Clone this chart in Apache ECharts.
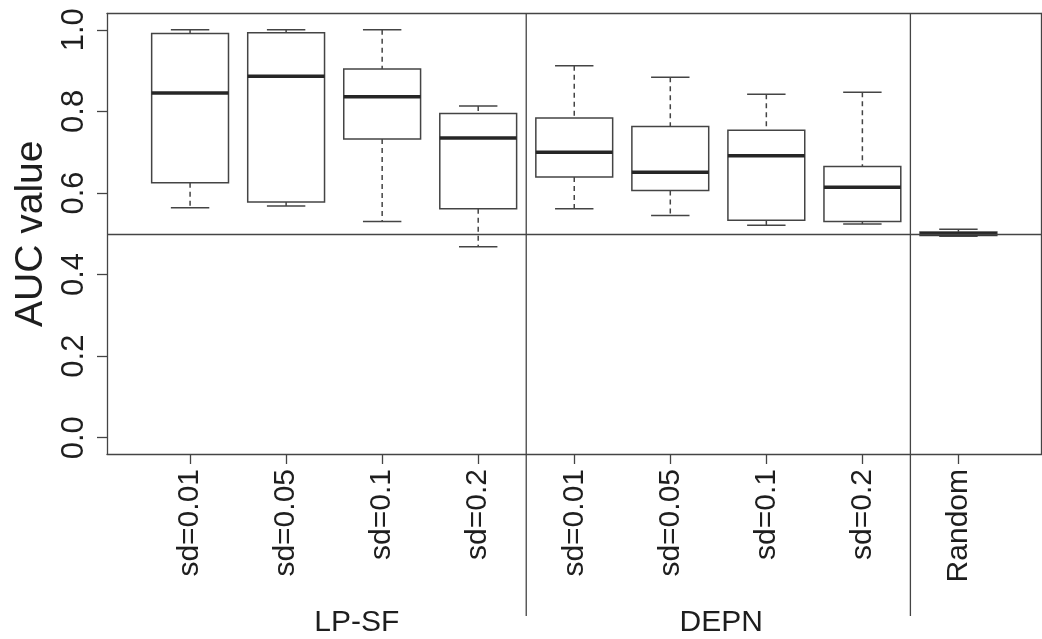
<!DOCTYPE html>
<html>
<head>
<meta charset="utf-8">
<title>AUC value boxplot</title>
<script src="https://cdn.jsdelivr.net/npm/echarts@6/dist/echarts.min.js"></script>
<style>
  html, body { margin: 0; padding: 0; background: #fff; }
  #chart { width: 1042px; height: 639px; }
</style>
</head>
<body>
<div id="chart"></div>
<script>
// values
const categories = ['sd=0.01', 'sd=0.05', 'sd=0.1', 'sd=0.2', 'sd=0.01', 'sd=0.05', 'sd=0.1', 'sd=0.2', 'Random'];
const whiskerLow = [0.564, 0.568, 0.530, 0.468, 0.561, 0.545, 0.521, 0.524, 0.494];
const quart1 = [0.625, 0.578, 0.732, 0.561, 0.639, 0.606, 0.533, 0.530, 0.496];
const medians = [0.845, 0.886, 0.836, 0.735, 0.700, 0.651, 0.691, 0.614, 0.500];
const quart3 = [0.991, 0.993, 0.904, 0.795, 0.784, 0.763, 0.754, 0.665, 0.504];
const whiskerHigh = [1.000, 1.000, 1.000, 0.813, 0.912, 0.884, 0.842, 0.847, 0.511];
const groups = ['LP-SF', 'DEPN'];
const yTicks = [0, 0.2, 0.4, 0.6, 0.8, 1.0];
const chanceLevel = 0.5;
const separators = [4.5, 8.5];

const LINE = '#444';
const TEXT = '#1e1e1e';
const FONT = 'Liberation Sans, Arial, Helvetica, sans-serif';
const X_MIN = 0.135, X_MAX = 9.865;
const Y_MIN = -0.04, Y_MAX = 1.04;

const positions = categories.map((c, i) => i + 1);
const boxData = positions.map((x, i) => [x, whiskerLow[i], quart1[i], medians[i], quart3[i], whiskerHigh[i]]);

const chart = echarts.init(document.getElementById('chart'));

function renderBox(params, api) {
  const x = api.value(0);
  const lo = api.coord([x, api.value(1)]);
  const q1 = api.coord([x, api.value(2)]);
  const md = api.coord([x, api.value(3)]);
  const q3 = api.coord([x, api.value(4)]);
  const hi = api.coord([x, api.value(5)]);
  const w = api.size([0.8, 0])[0];
  const cx = q3[0];
  const cap = w / 4;
  const solid = { stroke: LINE, lineWidth: 1.5 };
  const dashed = { stroke: LINE, lineWidth: 1.5, lineDash: [5, 4] };
  return {
    type: 'group',
    children: [
      { type: 'line', shape: { x1: cx, y1: hi[1], x2: cx, y2: q3[1] }, style: dashed },
      { type: 'line', shape: { x1: cx, y1: q1[1], x2: cx, y2: lo[1] }, style: dashed },
      { type: 'line', shape: { x1: cx - cap, y1: hi[1], x2: cx + cap, y2: hi[1] }, style: solid },
      { type: 'line', shape: { x1: cx - cap, y1: lo[1], x2: cx + cap, y2: lo[1] }, style: solid },
      { type: 'rect', shape: { x: cx - w / 2, y: q3[1], width: w, height: q1[1] - q3[1] },
        style: { fill: '#fff', stroke: LINE, lineWidth: 1.5 } },
      { type: 'line', shape: { x1: cx - w / 2, y1: md[1], x2: cx + w / 2, y2: md[1] },
        style: { stroke: '#262626', lineWidth: 3.5 } }
    ]
  };
}

function renderSeparator(params, api) {
  const x = api.value(0);
  const top = api.coord([x, Y_MAX]);
  const bottom = api.coord([x, Y_MIN]);
  return {
    type: 'line',
    shape: { x1: top[0], y1: top[1], x2: bottom[0], y2: bottom[1] + 162 },
    style: { stroke: LINE, lineWidth: 1.3 }
  };
}

const option = {
  backgroundColor: '#fff',
  animation: false,
  grid: { left: 107, top: 13.5, width: 934.5, height: 440.5, outerBoundsMode: 'none' },
  xAxis: [
    {
      type: 'value', min: X_MIN, max: X_MAX, position: 'bottom',
      splitLine: { show: false },
      axisLine: { show: true, onZero: false, lineStyle: { color: LINE, width: 1.3 } },
      axisTick: { show: true, customValues: positions, length: 10, lineStyle: { color: LINE, width: 1.3 } },
      axisLabel: {
        customValues: positions, rotate: 90, margin: 15,
        fontSize: 30, fontFamily: FONT, color: TEXT,
        formatter: v => categories[Math.round(v) - 1]
      }
    },
    {
      type: 'value', min: X_MIN, max: X_MAX, position: 'top',
      splitLine: { show: false },
      axisLine: { show: true, onZero: false, lineStyle: { color: LINE, width: 1.3 } },
      axisTick: { show: false }, axisLabel: { show: false }
    },
    {
      type: 'value', min: X_MIN, max: X_MAX, position: 'bottom', offset: 146,
      splitLine: { show: false }, axisLine: { show: false, onZero: false }, axisTick: { show: false },
      axisLabel: {
        customValues: [2.736, 6.53], margin: 8,
        fontSize: 30, fontFamily: FONT, color: TEXT,
        formatter: v => (v < separators[0] ? groups[0] : groups[1])
      }
    }
  ],
  yAxis: [
    {
      type: 'value', min: Y_MIN, max: Y_MAX, position: 'left',
      name: 'AUC value', nameLocation: 'middle', nameRotate: 90, nameGap: 54,
      nameTextStyle: { fontSize: 39, fontFamily: FONT, color: TEXT },
      splitLine: { show: false },
      axisLine: { show: true, onZero: false, lineStyle: { color: LINE, width: 1.3 } },
      axisTick: { show: true, customValues: yTicks, length: 10, lineStyle: { color: LINE, width: 1.3 } },
      axisLabel: {
        customValues: yTicks, rotate: 90, margin: 17,
        fontSize: 31, fontFamily: FONT, color: TEXT,
        formatter: v => Number(v).toFixed(1)
      }
    },
    {
      type: 'value', min: Y_MIN, max: Y_MAX, position: 'right',
      splitLine: { show: false },
      axisLine: { show: true, onZero: false, lineStyle: { color: LINE, width: 1.3 } },
      axisTick: { show: false }, axisLabel: { show: false }
    }
  ],
  series: [
    {
      type: 'custom',
      name: 'separators',
      clip: false,
      silent: true,
      renderItem: renderSeparator,
      encode: { x: 0 },
      data: separators.map(s => [s])
    },
    {
      type: 'custom',
      name: 'AUC',
      clip: false,
      renderItem: renderBox,
      encode: { x: 0, y: [1, 2, 3, 4, 5] },
      data: boxData,
      markLine: {
        silent: true,
        symbol: ['none', 'none'],
        label: { show: false },
        lineStyle: { color: LINE, width: 1.3, type: 'solid' },
        data: [{ yAxis: chanceLevel }]
      }
    }
  ]
};

chart.setOption(option);
</script>
</body>
</html>
